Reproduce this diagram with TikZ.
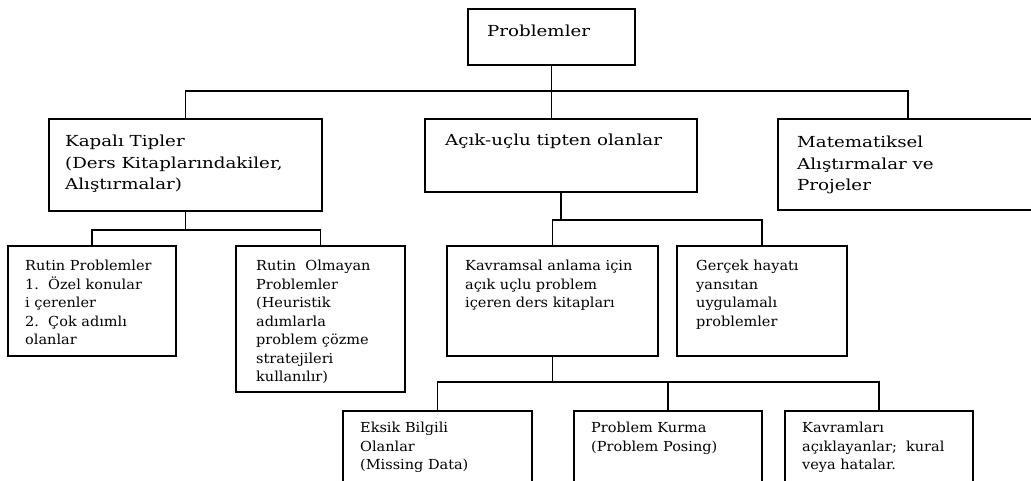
\documentclass[tikz,border=0pt]{standalone}
\usepackage{fontspec}
\setmainfont{DejaVu Serif}
\newfontfamily\topfont[FakeStretch=1.2]{DejaVu Serif}
\newfontfamily\subfont[FakeStretch=1.05]{DejaVu Serif}
% left-aligned block of lines, no outer column padding
\newcommand{\lines}[1]{\begin{tabular}{@{}l@{}}#1\end{tabular}}
\begin{document}
\begin{tikzpicture}[x=1pt,y=-1pt,
  box/.style={draw, line width=1.5pt, rectangle, inner sep=0pt},
  link/.style={line width=1.5pt},
  bigtxt/.style={anchor=north west, inner sep=0pt, font=\topfont\fontsize{15.2}{21.5}\selectfont},
  smalltxt/.style={anchor=north west, inner sep=0pt, font=\subfont\fontsize{13.8}{18.5}\selectfont}]
\path[use as bounding box, clip] (0,0) rectangle (1031,481);
\fill[white] (0,0) rectangle (1031,481);

% boxes
\node[box, minimum width=167pt, minimum height=56pt] (prob) at (551.5,37) {};
\node[box, minimum width=273pt, minimum height=92pt] (kap) at (185.5,165) {};
\node[box, minimum width=272pt, minimum height=73pt] (acik) at (561,155.5) {};
\node[box, minimum width=260pt, minimum height=91pt] (mat) at (908,164.5) {};
\node[box, minimum width=168pt, minimum height=110pt] (rut) at (92,301) {};
\node[box, minimum width=169pt, minimum height=146pt] (olm) at (320.5,319) {};
\node[box, minimum width=211pt, minimum height=110pt] (kav) at (552.5,301) {};
\node[box, minimum width=170pt, minimum height=110pt] (ger) at (762,301) {};
\node[box, minimum width=189pt, minimum height=100pt] (eks) at (437.5,461) {};
\node[box, minimum width=188pt, minimum height=100pt] (kur) at (668,461) {};
\node[box, minimum width=188pt, minimum height=100pt] (kvr) at (879,461) {};

% texts
\node[bigtxt] (tprob) at (487,21) {\lines{Problemler}};
\node[bigtxt] (tkap) at (65,131.5) {\lines{Kapalı Tipler\\(Ders Kitaplarındakiler,\\Alıştırmalar)}};
\node[bigtxt] (tacik) at (445,130.5) {\lines{Açık-uçlu tipten olanlar}};
\node[bigtxt] (tmat) at (797,132.5) {\lines{Matematiksel\\Alıştırmalar ve\\Projeler}};
\node[smalltxt] (trut) at (25,257.5) {\lines{Rutin Problemler\\1.\ \ Özel konular\\i çerenler\\2.\ \ Çok adımlı\\olanlar}};
\node[smalltxt] (tolm) at (256,257.5) {\lines{Rutin\ \ Olmayan\\Problemler\\(Heuristik\\adımlarla\\problem çözme\\stratejileri\\kullanılır)}};
\node[smalltxt] (tkav) at (465,257.5) {\lines{Kavramsal anlama için\\açık uçlu problem\\içeren ders kitapları}};
\node[smalltxt] (tger) at (696,257.5) {\lines{Gerçek hayatı\\yansıtan\\uygulamalı\\problemler}};
\node[smalltxt] (teks) at (360,419.5) {\lines{Eksik Bilgili\\Olanlar\\(Missing Data)}};
\node[smalltxt] (tkur) at (591,419.5) {\lines{Problem Kurma\\(Problem Posing)}};
\node[smalltxt] (tkvr) at (802,419.5) {\lines{Kavramları\\açıklayanlar;\ \ kural\\veya hatalar.}};

% bus levels
\coordinate (busA) at (0,91);
\coordinate (busB) at (0,230);
\coordinate (busC) at (0,220);
\coordinate (busD) at (0,382);

% connectors
\draw[link] (prob.south) -- (prob.south |- acik.north);
\draw[link] (kap.north) |- (busA -| mat.north) -- (mat.north);
\draw[link] (kap.south) -- (kap.south |- busB);
\draw[link] (rut.north) |- (busB -| olm.north) -- (olm.north);
\draw[link] (acik.south) -- (acik.south |- busC);
\draw[link] (kav.north) |- (busC -| ger.north) -- (ger.north);
\draw[link] (kav.south) -- (kav.south |- busD);
\draw[link] (eks.north) |- (busD -| kvr.north) -- (kvr.north);
\draw[link] (kur.north) -- (kur.north |- busD);
\end{tikzpicture}
\end{document}
